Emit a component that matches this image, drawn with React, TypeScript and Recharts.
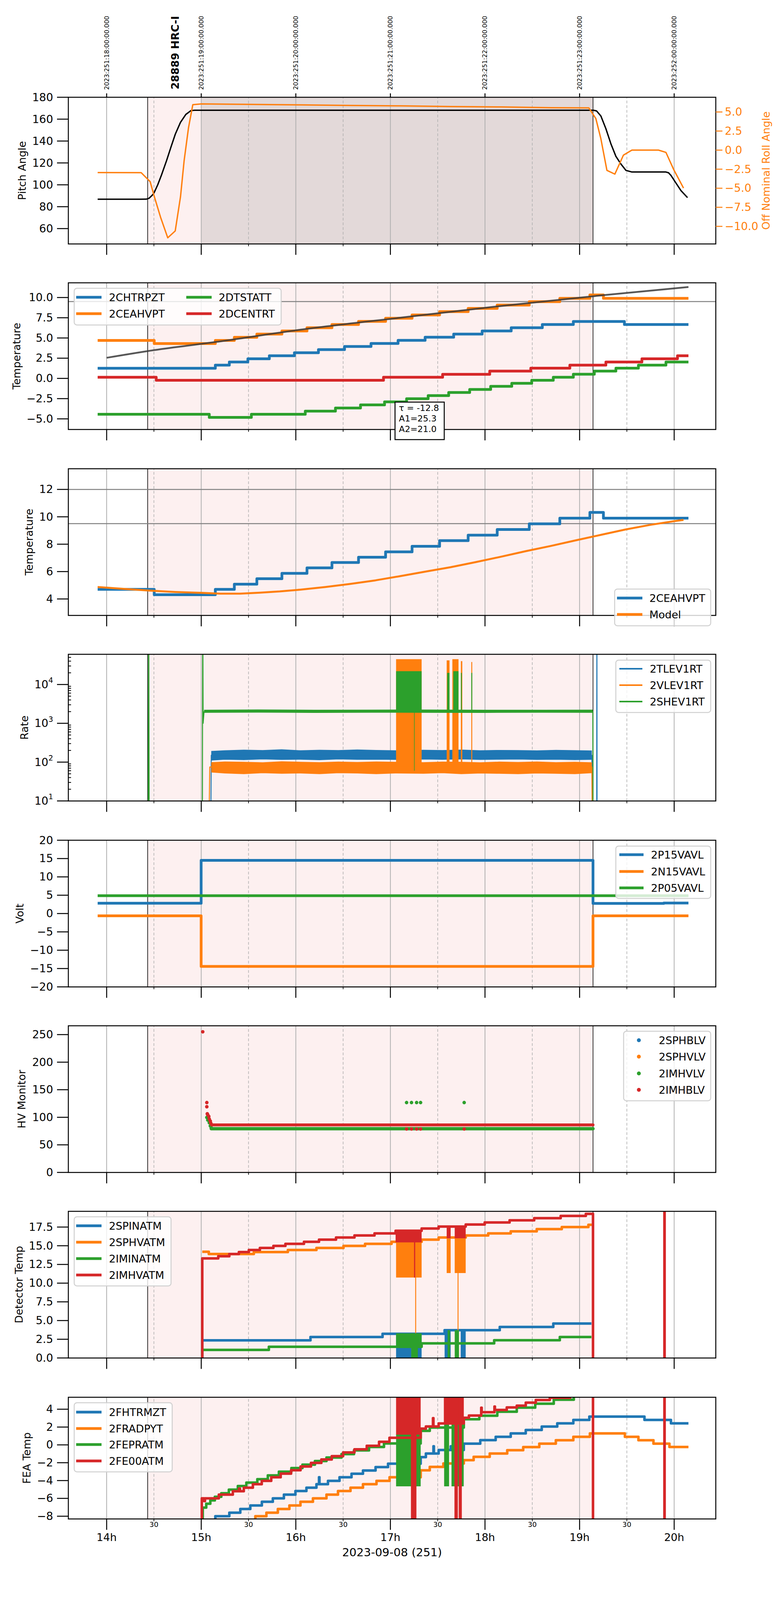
import React from 'react';
import {
  ComposedChart,
  Line,
  Area,
  Scatter,
  XAxis,
  YAxis,
  ReferenceLine,
  ReferenceArea,
} from 'recharts';

const FONT = "'DejaVu Sans', Verdana, sans-serif";
const C_BLUE = '#1f77b4';
const C_ORANGE = '#ff7f0e';
const C_GREEN = '#2ca02c';
const C_RED = '#d62728';
const C_PINK = '#fdf0f0';
const C_DARK = '#e3d9d9';
const C_GRID = '#b0b0b0';

// ---------------- time axis (hours, UTC, day 251) ----------------
const X_DOMAIN: [number, number] = [17.595, 24.44];
const DATA_END = 24.151;
const HOUR_TICKS = [18, 19, 20, 21, 22, 23, 24];
const HALF_HOUR_TICKS = [18.5, 19.5, 20.5, 21.5, 22.5, 23.5];
const X_TICKS = [18, 18.5, 19, 19.5, 20, 20.5, 21, 21.5, 22, 22.5, 23, 23.5, 24];
const LOCAL_HOUR_LABELS = ['14h', '15h', '16h', '17h', '18h', '19h', '20h'];
const HALF_HOUR_LABEL = '30';
const TOP_TIME_LABELS = [
  '2023:251:18:00:00.000',
  '2023:251:19:00:00.000',
  '2023:251:20:00:00.000',
  '2023:251:21:00:00.000',
  '2023:251:22:00:00.000',
  '2023:251:23:00:00.000',
  '2023:252:00:00:00.000',
];
const X_LABEL = '2023-09-08 (251)';
const OBS_START = 18.434;
const OBS_END = 23.142;
const SCIENCE_START = 19.0;
const OBSID_TEXT = '28889 HRC-I';
const OBSID_T = 18.723;

// ---------------- panel 1: pitch / roll ----------------
const PITCH_T = [17.905, 18.36, 18.42, 18.45, 18.48, 18.5, 18.54, 18.58, 18.633, 18.68, 18.726, 18.78, 18.837, 18.893, 18.93,
  23.15, 23.18, 23.225, 23.278, 23.331, 23.384, 23.437, 23.49, 23.553, 23.913, 23.94, 23.966, 24.019, 24.072, 24.141];
const PITCH_V = [86.8, 86.8, 86.9, 87.8, 90.3, 92.4, 100, 109, 122, 134.5, 146.3, 157, 164.3, 167.9, 168.1,
  168.1, 167.5, 162.9, 151.3, 137.5, 126, 119, 113.2, 111.7, 111.7, 111.0, 108.6, 101.6, 94.7, 88.3];
const ROLL_T = [17.905, 18.365, 18.46, 18.504, 18.57, 18.646, 18.725, 18.781, 18.819, 18.865, 18.911, 19.0, 19.52, 20.05,
  20.58, 21.11, 21.64, 22.17, 22.7, 23.098, 23.172, 23.225, 23.289, 23.373, 23.463, 23.553, 23.834, 23.913, 23.993, 24.099];
const ROLL_V = [-2.94, -2.96, -4.14, -6.1, -8.8, -11.5, -10.6, -6.1, -1.4, 2.9, 5.96, 6.06, 6.0, 5.93,
  5.85, 5.8, 5.71, 5.66, 5.56, 5.53, 4.14, 1.5, -2.66, -3.15, -0.67, 0.0, 0.0, -0.3, -2.5, -4.98];
const PITCH_TICKS = [60, 80, 100, 120, 140, 160, 180];
const ROLL_TICKS = [-10, -7.5, -5, -2.5, 0, 2.5, 5];

// ---------------- panel 2: temperatures ----------------
const CHTRPZT_T = [17.905, 19.149, 19.297, 19.493, 19.72, 19.985, 20.239, 20.515, 20.795, 21.081, 21.367, 21.669, 21.97, 22.277, 22.606, 22.934, 23.474];
const CHTRPZT_V = [1.26, 1.64, 2.03, 2.42, 2.8, 3.18, 3.56, 3.95, 4.32, 4.71, 5.1, 5.48, 5.87, 6.27, 6.66, 7.04, 6.66];
const CEAHVPT_T = [17.905, 18.503, 19.149, 19.35, 19.588, 19.853, 20.118, 20.382, 20.663, 20.949, 21.229, 21.52, 21.822, 22.129, 22.468, 22.791, 23.109, 23.252];
const CEAHVPT_V = [4.7, 4.31, 4.7, 5.08, 5.48, 5.87, 6.27, 6.66, 7.05, 7.44, 7.85, 8.26, 8.66, 9.07, 9.49, 9.9, 10.32, 9.9];
const DTSTATT_T = [17.905, 19.085, 19.53, 20.1, 20.419, 20.684, 20.938, 21.171, 21.399, 21.616, 21.838, 22.06, 22.283, 22.494, 22.722, 22.934, 23.156, 23.384, 23.622, 23.913];
const DTSTATT_V = [-4.43, -4.82, -4.43, -4.05, -3.66, -3.27, -2.9, -2.51, -2.13, -1.74, -1.37, -0.98, -0.61, -0.23, 0.14, 0.52, 0.9, 1.27, 1.64, 2.03];
const DCENTRT_T = [17.905, 18.524, 20.927, 21.552, 22.05, 22.484, 22.897, 23.278, 23.659, 24.035];
const DCENTRT_V = [0.14, -0.23, 0.14, 0.51, 0.9, 1.27, 1.64, 2.03, 2.42, 2.8];
const FIT_T = [18.0, 18.503, 19.149, 20.049, 21.107, 22.166, 23.225, 24.151];
const FIT_V = [2.55, 3.5, 4.5, 6.02, 7.51, 8.95, 10.26, 11.3];
const LIMIT_95 = 9.5;
const LIMIT_12 = 12;
const FIT_TEXT = ['\u03c4 = -12.8', 'A1=25.3', 'A2=21.0'];
const FIT_TEXT_T = 21.309;
const TEMP2_TICKS = [-5, -2.5, 0, 2.5, 5, 7.5, 10];

// ---------------- panel 3: model ----------------
const MODEL_T = [17.905, 18.196, 18.46, 18.725, 18.99, 19.2, 19.41, 19.62, 19.83, 20.049, 20.313, 20.578, 20.843, 21.107, 21.372, 21.637, 21.902, 22.166, 22.431, 22.696, 22.96, 23.225, 23.49, 23.754, 24.019, 24.099];
const MODEL_V = [4.87, 4.73, 4.61, 4.51, 4.45, 4.39, 4.39, 4.46, 4.55, 4.68, 4.87, 5.1, 5.36, 5.67, 6.0, 6.32, 6.69, 7.08, 7.49, 7.87, 8.28, 8.68, 9.08, 9.42, 9.7, 9.77];
const TEMP3_TICKS = [4, 6, 8, 10, 12];

// ---------------- panel 4: rates (log) ----------------
const BAND_T = [19.106, 19.25, 19.45, 19.65, 19.85, 20.05, 20.25, 20.45, 20.65, 20.85, 21.05, 21.35, 21.55, 21.75, 21.95, 22.15, 22.35, 22.55, 22.75, 22.95, 23.13];
const TLEV_LO = [112, 118, 115, 120, 116, 118, 114, 120, 117, 118, 116, 119, 117, 120, 116, 118, 119, 116, 118, 115, 117];
const TLEV_HI = [190, 198, 205, 200, 210, 198, 204, 200, 208, 202, 198, 204, 200, 206, 198, 202, 200, 197, 203, 199, 196];
const VLEV_LO = [55, 52, 50, 53, 51, 52, 50, 53, 52, 50, 52, 51, 53, 50, 52, 51, 50, 52, 51, 50, 53];
const VLEV_HI = [98, 102, 100, 97, 103, 100, 98, 101, 99, 102, 100, 98, 101, 100, 97, 101, 99, 102, 98, 100, 97];
const SHEV_BAND_T = [19.03, 19.6, 20.2, 20.8, 21.4, 22.0, 22.6, 23.14];
const SHEV_LO = [1900, 1920, 1890, 1910, 1900, 1890, 1910, 1900];
const SHEV_HI = [2200, 2230, 2190, 2210, 2220, 2200, 2190, 2210];
const TLEV_LINE_T = [19.1, 19.106, 23.13, 23.135, 23.181, 23.183, 23.185];
const TLEV_LINE_V = [1, 150, 150, 1, 1, 1e6, 1];
const VLEV_LINE_T = [19.08, 19.09, 23.13, 23.135];
const VLEV_LINE_V = [1, 75, 75, 1];
const SHEV_LINE_T = [18.44, 18.445, 18.45, 19.012, 19.016, 19.02, 19.03, 23.14, 23.142];
const SHEV_LINE_V = [1, 1e6, 1, 1, 1e6, 1000, 2000, 2000, 1];
const VLEV_BLOCKS = [[21.06, 21.33, 80, 45000], [21.595, 21.625, 80, 42000], [21.655, 21.72, 80, 45000], [21.745, 21.76, 80, 40000], [21.855, 21.865, 80, 38000]];
const SHEV_BLOCKS = [[21.06, 21.33, 2000, 22000], [21.6, 21.625, 2000, 20000], [21.665, 21.72, 2000, 22000], [21.745, 21.755, 2000, 20000], [21.855, 21.865, 2000, 20000], [21.25, 21.256, 60, 2000]];
const RATE_MAJOR = [10, 100, 1000, 10000];
const RATE_TICKS = [10, 20, 30, 40, 50, 60, 70, 80, 90, 100, 200, 300, 400, 500, 600, 700, 800, 900,
  1000, 2000, 3000, 4000, 5000, 6000, 7000, 8000, 9000, 10000, 20000, 30000, 40000, 50000];

// ---------------- panel 5: voltages ----------------
const P15_T = [17.905, 18.999, 23.142, 23.89];
const P15_V = [2.82, 14.52, 2.76, 2.86];
const N15_T = [17.905, 18.999, 23.142];
const N15_V = [-0.61, -14.43, -0.61];
const P05_T = [17.905];
const P05_V = [4.87];
const VOLT_TICKS = [-20, -15, -10, -5, 0, 5, 10, 15, 20];

// ---------------- panel 6: HV monitor ----------------
const IMHBLV_T = [19.016, 19.059, 19.059, 19.064, 19.069, 19.08, 19.085, 19.096, 19.101, 19.112, 21.171, 21.223, 21.277, 21.319, 21.78];
const IMHBLV_V = [255.1, 126.7, 119.1, 106.4, 104.5, 101.6, 96.9, 93.1, 89.3, 86.4, 78.8, 78.8, 78.8, 78.8, 78.8];
const IMHBLV_STEADY_T = [19.112, 23.142];
const IMHBLV_STEADY_V = [86.1, 86.1];
const IMHVLV_T = [19.059, 19.069, 19.085, 19.096, 19.106, 21.171, 21.223, 21.277, 21.319, 21.78];
const IMHVLV_V = [99.7, 95, 90.3, 84.5, 80.7, 126.7, 126.7, 126.7, 126.7, 126.7];
const IMHVLV_STEADY_T = [19.106, 23.142];
const IMHVLV_STEADY_V = [79.3, 79.3];
const HV_TICKS = [0, 50, 100, 150, 200, 250];

// ---------------- panel 7: detector temps ----------------
const SPINATM_T = [19.009, 19.011, 20.155, 20.917, 21.573, 22.156, 22.722];
const SPINATM_V = [-5, 2.35, 2.8, 3.23, 3.71, 4.14, 4.6];
const SPINATM_BLOCKS = [[21.06, 21.22, -1, 3.23], [21.29, 21.33, -1, 3.23], [21.573, 21.637, -1, 3.71], [21.743, 21.796, -1, 3.71]];
const SPHVATM_T = [19.011, 19.08, 19.556, 19.916, 20.218, 20.504, 20.732, 21.012, 21.33, 21.51, 21.796, 22.034, 22.272, 22.547, 22.812, 23.093];
const SPHVATM_V = [14.19, 13.89, 14.16, 14.43, 14.71, 14.98, 15.25, 15.53, 15.81, 16.1, 16.38, 16.65, 16.93, 17.22, 17.5, 17.8];
const SPHVATM_BLOCKS = [[21.06, 21.33, 10.75, 15.6], [21.262, 21.272, 3.3, 15.6], [21.595, 21.637, 11.35, 16.1], [21.68, 21.796, 11.35, 16.1], [21.71, 21.72, 3.5, 16.1]];
const IMINATM_T = [19.009, 19.011, 19.715, 21.33, 22.097, 22.791];
const IMINATM_V = [-5, 1.08, 1.5, 1.95, 2.37, 2.8];
const IMINATM_BLOCKS = [[21.06, 21.33, 1.4, 3.3], [21.22, 21.29, -1, 3.3], [21.605, 21.63, -1, 3.71], [21.68, 21.725, -1, 3.71]];
const IMHVATM_T = [19.009, 19.011, 19.18, 19.297, 19.398, 19.503, 19.62, 19.763, 19.89, 20.086, 20.245, 20.425, 20.62, 20.832, 21.055, 21.33, 21.51, 21.796, 21.997, 22.26, 22.52, 22.8, 23.066, 23.142, 23.897, 23.899];
const IMHVATM_V = [-5, 13.31, 13.6, 13.89, 14.16, 14.43, 14.71, 14.98, 15.25, 15.53, 15.81, 16.1, 16.38, 16.65, 17.0, 17.3, 17.57, 17.84, 18.11, 18.4, 18.68, 18.98, 19.26, -5, 30, -5];
const IMHVATM_BLOCKS = [[21.055, 21.33, 15.45, 17.02], [21.25, 21.262, 10.75, 17.0], [21.595, 21.637, 16.0, 17.57], [21.68, 21.796, 16.0, 17.57]];
const DET_TICKS = [0, 2.5, 5, 7.5, 10, 12.5, 15, 17.5];

// ---------------- panel 8: FEA temps ----------------
const FHTRMZT_T = [19.147, 19.149, 19.297, 19.413, 19.519, 19.641, 19.757, 19.874, 19.996, 20.112, 20.218, 20.245, 20.25, 20.34, 20.462, 20.589, 20.71, 20.843, 20.975, 21.32, 21.375, 21.455, 21.46, 21.51, 21.638, 21.643, 21.776, 21.95, 22.113, 22.272, 22.431, 22.6, 22.764, 22.934, 23.103, 23.686, 23.966];
const FHTRMZT_V = [-20, -8.0, -7.6, -7.19, -6.79, -6.38, -5.99, -5.58, -5.17, -4.8, -4.41, -3.63, -4.41, -4.03, -3.63, -3.24, -2.87, -2.49, -2.11, -1.37, -0.97, -0.16, -0.97, -0.57, -0.16, -0.57, 0.14, 0.53, 0.9, 1.29, 1.67, 2.06, 2.42, 2.8, 3.17, 2.8, 2.42];
const FRADPYT_T = [19.57, 19.572, 19.689, 19.81, 19.932, 20.049, 20.181, 20.324, 20.446, 20.578, 20.71, 20.853, 20.991, 21.32, 21.416, 21.56, 21.776, 21.88, 22.05, 22.235, 22.404, 22.574, 22.749, 22.934, 23.109, 23.479, 23.622, 23.781, 23.95];
const FRADPYT_V = [-20, -8.0, -7.6, -7.19, -6.79, -6.38, -5.99, -5.58, -5.17, -4.8, -4.41, -4.03, -3.63, -2.85, -2.47, -2.09, -1.71, -1.34, -0.97, -0.6, -0.24, 0.14, 0.52, 0.9, 1.29, 0.9, 0.52, 0.14, -0.23];
const FEPRATM_T = [19.014, 19.016, 19.053, 19.096, 19.144, 19.212, 19.292, 19.387, 19.477, 19.593, 19.704, 19.821, 19.953, 20.07, 20.202, 20.324, 20.483, 20.615, 20.774, 20.932, 21.32, 21.416, 21.776, 21.94, 22.13, 22.336, 22.531, 22.727, 22.939];
const FEPRATM_V = [-20, -7.04, -6.6, -6.22, -5.82, -5.43, -5.02, -4.62, -4.23, -3.85, -3.42, -3.01, -2.6, -2.22, -1.81, -1.42, -1.03, -0.62, -0.23, 0.16, 1.57, 1.94, 2.88, 3.27, 3.72, 4.18, 4.62, 5.07, 5.6];
const FEPRATM_BLOCKS = [[21.06, 21.32, -4.65, 1.2], [21.568, 21.62, -4.65, 2.4], [21.646, 21.775, -4.65, 2.4]];
const FE00ATM_T = [19.004, 19.006, 19.03, 19.04, 19.186, 19.334, 19.4, 19.41, 19.45, 19.546, 19.64, 19.74, 19.84, 19.95, 20.05, 20.16, 20.27, 20.38, 20.5, 20.62, 20.75, 20.88, 20.99, 21.32, 21.375, 21.45, 21.455, 21.51, 21.776, 21.83, 21.96, 21.965, 22.1, 22.105, 22.23, 22.336, 22.431, 22.537, 22.685, 22.9, 23.142, 23.897, 23.899];
const FE00ATM_V = [-20, -5.99, -6.3, -5.99, -5.58, -5.2, -4.9, -5.2, -4.8, -4.41, -4.03, -3.63, -3.22, -2.84, -2.43, -2.02, -1.64, -1.26, -0.85, -0.5, -0.1, 0.35, 0.8, 1.82, 2.07, 3.0, 2.07, 2.41, 3.04, 3.29, 4.17, 3.66, 4.3, 3.92, 4.2, 4.4, 4.74, 5.03, 5.29, 5.6, -20, 20, -20];
const FE00ATM_BLOCKS = [[21.06, 21.32, 1.15, 20], [21.217, 21.275, -20, 20], [21.565, 21.776, 2.5, 20], [21.677, 21.713, -20, 20], [21.722, 21.755, -20, 20]];
const FEA_TICKS = [-8, -6, -4, -2, 0, 2, 4];

// ---------------- page layout ----------------
const PAGE_H = 6200;
const VIEW_H = typeof window !== 'undefined' && window.innerHeight ? Math.min(PAGE_H, window.innerHeight) : PAGE_H;
const COMPACT = VIEW_H < PAGE_H;
const REF_PANELS: [number, number][] = [[249, 669], [987, 673], [1726, 674], [2465, 674], [3204, 673], [3943, 674], [4682, 670], [5421, 674]];
function panelLayout(H: number): [number, number][] {
  if (H >= PAGE_H) return REF_PANELS;
  const top0 = 249;
  const gap = 60;
  const bottomSpace = 104;
  const ph = (H - top0 - 7 * gap - bottomSpace) / 8;
  return REF_PANELS.map((_, i) => [top0 + i * (ph + gap), ph] as [number, number]);
}

// ---------------- helpers ----------------
const pairs = (t: number[], v: number[]) => t.map((x, i) => ({ t: x, v: v[i] }));
const steps = (t: number[], v: number[], end: number = DATA_END) => [...pairs(t, v), { t: end, v: v[v.length - 1] }];
const band = (t: number[], lo: number[], hi: number[]) => t.map((x, i) => ({ t: x, r: [lo[i], hi[i]] }));
const fmt = (v: number, d: number) => (v < 0 ? '\u2212' : '') + Math.abs(v).toFixed(d);

const PLOT_LEFT_W = 175;
const RIGHT_W = 167;

const yTick = (digits: number) => (props: any) => {
  const { x, y, payload } = props;
  return (
    <g>
      <line x1={x - 29} x2={x} y1={y} y2={y} stroke="#000" strokeWidth={2.5} />
      <text x={x - 39} y={y} textAnchor="end" dominantBaseline="central" fontSize={28} fontFamily={FONT} fill="#000">
        {fmt(payload.value, digits)}
      </text>
    </g>
  );
};

const rightTick = (props: any) => {
  const { x, y, payload } = props;
  return (
    <g>
      <line x1={x} x2={x + 17} y1={y} y2={y} stroke={C_ORANGE} strokeWidth={2.5} />
      <text x={x + 23} y={y} textAnchor="start" dominantBaseline="central" fontSize={28} fontFamily={FONT} fill={C_ORANGE}>
        {fmt(payload.value, 1)}
      </text>
    </g>
  );
};

const logTick = (props: any) => {
  const { x, y, payload } = props;
  const v = payload.value;
  const k = RATE_MAJOR.indexOf(v);
  if (k < 0) {
    return <line x1={x} x2={x + 7} y1={y} y2={y} stroke="#000" strokeWidth={2} />;
  }
  return (
    <g>
      <line x1={x - 29} x2={x} y1={y} y2={y} stroke="#000" strokeWidth={2.5} />
      <text x={x - 39} y={y} textAnchor="end" dominantBaseline="central" fontSize={28} fontFamily={FONT} fill="#000">
        10<tspan dy={-11} fontSize={19}>{String(k + 1)}</tspan>
      </text>
    </g>
  );
};

const xTick = (labels: boolean) => (props: any) => {
  const { x, y, payload } = props;
  const v = payload.value;
  const hi = HOUR_TICKS.indexOf(v);
  const isHour = hi >= 0;
  return (
    <g>
      <line x1={x} x2={x} y1={y} y2={y + (isHour ? 28 : 6)} stroke="#000" strokeWidth={isHour ? 2.5 : 1.8} />
      {labels ? (
        <text x={x} y={y + (isHour ? 47 : 14)} textAnchor="middle" dominantBaseline="central"
          fontSize={isHour ? 27 : 18} fontFamily={FONT} fill="#000">
          {isHour ? LOCAL_HOUR_LABELS[hi] : HALF_HOUR_LABEL}
        </text>
      ) : null}
    </g>
  );
};

const yLabel = (text: string, cx: number, color = '#000') => (props: any) => {
  const vb = props.viewBox || {};
  const cy = vb.y + vb.height / 2;
  return (
    <text x={cx} y={cy} transform={`rotate(-90 ${cx} ${cy})`} textAnchor="middle" dominantBaseline="central"
      fontSize={27} fontFamily={FONT} fill={color}>
      {text}
    </text>
  );
};

const xLabel = (props: any) => {
  const vb = props.viewBox || {};
  return (
    <text x={vb.x + vb.width / 2} y={vb.y + 86} textAnchor="middle" dominantBaseline="central" fontSize={29} fontFamily={FONT} fill="#000">
      {X_LABEL}
    </text>
  );
};

const topTimeLabel = (text: string) => (props: any) => {
  const vb = props.viewBox || {};
  const x = vb.x;
  const y = vb.y;
  return (
    <g>
      <line x1={x} x2={x} y1={y} y2={y - 10} stroke="#000" strokeWidth={2.5} />
      <text x={x} y={y - 19} transform={`rotate(-90 ${x} ${y - 19})`} textAnchor="start" dominantBaseline="central"
        fontSize={16} fontFamily={FONT} fill="#000">
        {text}
      </text>
    </g>
  );
};

const obsidLabel = (props: any) => {
  const vb = props.viewBox || {};
  const x = vb.x;
  const y = vb.y - 20;
  return (
    <text x={x} y={y} transform={`rotate(-90 ${x} ${y})`} textAnchor="start" dominantBaseline="central"
      fontSize={27} fontWeight="bold" fontFamily={FONT} fill="#000">
      {OBSID_TEXT}
    </text>
  );
};

// fit-parameter box, anchored on the panel's bottom edge
const FIT_BOX = COMPACT
  ? { w: 126, top: 70, h: 96, font: 22, first: 55, step: 27, pad: 10 }
  : { w: 144, top: 101, h: 116, font: 26, first: 77, step: 31.5, pad: 11 };
const fitBox = (props: any) => {
  const vb = props.viewBox || {};
  const cx = vb.x;
  const bottom = vb.y + vb.height;
  const b = FIT_BOX;
  return (
    <g>
      <rect x={cx - b.w / 2} y={bottom - b.top} width={b.w} height={b.h} fill="#fff" stroke="#000" strokeWidth={2.5} />
      {FIT_TEXT.map((s, i) => (
        <text key={i} x={cx - b.w / 2 + b.pad} y={bottom - b.first + i * b.step} textAnchor="start" dominantBaseline="central"
          fontSize={b.font} fontFamily={FONT} fill="#000">
          {s}
        </text>
      ))}
    </g>
  );
};

function backdrop(darkScience = false, topLabels = false) {
  const els: any[] = [];
  els.push(<ReferenceArea key="pink" zIndex={-300} x1={OBS_START} x2={OBS_END} fill={C_PINK} fillOpacity={1} stroke="none" ifOverflow="visible" />);
  if (darkScience) {
    els.push(<ReferenceArea key="dark" zIndex={-290} x1={SCIENCE_START} x2={OBS_END} fill={C_DARK} fillOpacity={1} stroke="none" ifOverflow="visible" />);
  }
  HOUR_TICKS.forEach((h, i) => {
    els.push(
      <ReferenceLine key={'h' + h} zIndex={-250} x={h} stroke={C_GRID} strokeWidth={2} ifOverflow="visible"
        label={topLabels ? topTimeLabel(TOP_TIME_LABELS[i]) : undefined} />
    );
  });
  HALF_HOUR_TICKS.forEach((h) => {
    els.push(<ReferenceLine key={'hh' + h} zIndex={-250} x={h} stroke={C_GRID} strokeWidth={1.6} strokeDasharray="7 5" ifOverflow="visible" />);
  });
  els.push(<ReferenceLine key="obs0" zIndex={-240} x={OBS_START} stroke="#000" strokeWidth={1.6} ifOverflow="visible" />);
  els.push(<ReferenceLine key="obs1" zIndex={-240} x={OBS_END} stroke="#000" strokeWidth={1.6} ifOverflow="visible" />);
  return els;
}

const frame = (yDomain: [number, number], yId: any = 0) => (
  <ReferenceArea key="frame" zIndex={900} yAxisId={yId} x1={X_DOMAIN[0]} x2={X_DOMAIN[1]} y1={yDomain[0]} y2={yDomain[1]}
    fill="none" stroke="#000" strokeWidth={2.5} ifOverflow="visible" />
);

const lineEl = (key: string, data: any[], color: string, width: number, z: number, type: any = 'stepAfter', extra: any = {}) => (
  <Line key={key} zIndex={z} data={data} dataKey="v" type={type} stroke={color} strokeWidth={width} dot={false} activeDot={false}
    isAnimationActive={false} strokeLinejoin="round" legendType="none" {...extra} />
);

const blockAreas = (blocks: number[][], color: string, key: string, z: number) =>
  blocks.map((b, i) => (
    <Area key={key + i} zIndex={z} data={[{ t: b[0], r: [b[2], b[3]] }, { t: b[1], r: [b[2], b[3]] }]} dataKey="r" type="linear"
      stroke="none" fill={color} fillOpacity={1} dot={false} activeDot={false} isAnimationActive={false} legendType="none" />
  ));

const bandArea = (key: string, data: any[], color: string, z: number) => (
  <Area key={key} zIndex={z} data={data} dataKey="r" type="linear" stroke={color} strokeWidth={1.5} fill={color} fillOpacity={1}
    dot={false} activeDot={false} isAnimationActive={false} legendType="none" />
);

const xAxisEl = (height: number, labels = false) => (
  <XAxis key="x" dataKey="t" type="number" domain={X_DOMAIN} allowDataOverflow ticks={X_TICKS} interval={0}
    height={height} axisLine={false} tickLine={false} tickSize={0} tickMargin={0} tick={xTick(labels)}
    label={labels ? xLabel : undefined} />
);

const yAxisEl = (domain: [number, number], ticks: number[], tick: any, label: any, extra: any = {}) => (
  <YAxis key="y" type="number" domain={domain} allowDataOverflow ticks={ticks} interval={0} width={PLOT_LEFT_W}
    axisLine={false} tickLine={false} tickSize={0} tickMargin={0} tick={tick} label={label} {...extra} />
);

function PanelChart({ top, height, mt = 40, mb = 40, right = false, children }: any) {
  const h = Math.round(height + mt + mb);
  return (
    <div style={{ position: 'absolute', left: 0, top: top - mt, width: 2000, height: h }}>
      <ComposedChart width={2000} height={h} margin={{ top: mt, right: right ? 0 : RIGHT_W, bottom: h - mt - height, left: 0 }}>
        {children}
      </ComposedChart>
    </div>
  );
}

type LegendEntry = { label: string; color: string };
function LegendBox({ x, y, w, h, entries, rows, hx, tx, len = 65, lw = 7, dots = false }: any) {
  const ox = x - 3;
  const oy = y - 3;
  return (
    <svg style={{ position: 'absolute', left: ox, top: oy }} width={w + 6} height={h + 6}>
      <rect x={3} y={3} width={w} height={h} rx={7} ry={7} fill="#fff" fillOpacity={0.8} stroke="#d0d0d0" strokeWidth={2.5} />
      {entries.map((e: LegendEntry, i: number) => {
        const cy = 3 + rows[i];
        const hxi = (Array.isArray(hx) ? hx[i] : hx) - ox;
        const txi = (Array.isArray(tx) ? tx[i] : tx) - ox;
        return (
          <g key={i}>
            {dots ? (
              <circle cx={hxi} cy={cy} r={5} fill={e.color} />
            ) : (
              <line x1={hxi} x2={hxi + len} y1={cy} y2={cy} stroke={e.color} strokeWidth={lw} />
            )}
            <text x={txi} y={cy} dominantBaseline="central" fontSize={27} fontFamily={FONT} fill="#000">
              {e.label}
            </text>
          </g>
        );
      })}
    </svg>
  );
}

export default function App() {
  const L = panelLayout(VIEW_H);
  const D1: [number, number] = [46, 180];
  const D1R: [number, number] = [-12.3, 6.93];
  const D2: [number, number] = [-6.31, 11.82];
  const D3: [number, number] = [2.8, 13.51];
  const D4: [number, number] = [10, 60000];
  const D5: [number, number] = [-20, 20];
  const D6: [number, number] = [0, 266];
  const D7: [number, number] = [0, 19.6];
  const D8: [number, number] = [-8.3, 5.34];
  const bottomSpace = VIEW_H - (L[7][0] + L[7][1]);
  const hvRed = COMPACT ? 7.5 : 10;
  const hvGreen = COMPACT ? 8.5 : 13;
  const hvDot = COMPACT ? 4.5 : 5.5;

  return (
    <div style={{ position: 'relative', margin: '-8px 0 0 -8px', width: 2000, height: VIEW_H, background: '#fff', fontFamily: FONT, overflow: 'hidden' }}>
      {/* Panel 1 */}
      <PanelChart top={L[0][0]} height={L[0][1]} mt={L[0][0]} right>
        {xAxisEl(40)}
        <YAxis yAxisId={0} type="number" domain={D1} allowDataOverflow ticks={PITCH_TICKS} interval={0} width={PLOT_LEFT_W}
          axisLine={false} tickLine={false} tickSize={0} tickMargin={0} tick={yTick(0)} label={yLabel('Pitch Angle', 56)} />
        <YAxis yAxisId="r" orientation="right" type="number" domain={D1R} allowDataOverflow ticks={ROLL_TICKS} interval={0} width={RIGHT_W}
          axisLine={false} tickLine={false} tickSize={0} tickMargin={0} tick={rightTick} label={yLabel('Off Nominal Roll Angle', 1961, C_ORANGE)} />
        {backdrop(true, true)}
        <ReferenceLine x={OBSID_T} stroke="none" ifOverflow="visible" label={obsidLabel} />
        {lineEl('pitch', pairs(PITCH_T, PITCH_V), '#000', 3.5, 110, 'linear')}
        {lineEl('roll', pairs(ROLL_T, ROLL_V), C_ORANGE, 3.5, 120, 'linear', { yAxisId: 'r' })}
        {frame(D1)}
      </PanelChart>

      {/* Panel 2 */}
      <PanelChart top={L[1][0]} height={L[1][1]}>
        {xAxisEl(40)}
        {yAxisEl(D2, TEMP2_TICKS, yTick(1), yLabel('Temperature', 42))}
        {backdrop()}
        <ReferenceLine y={LIMIT_95} zIndex={-230} stroke="#808080" strokeWidth={2.5} ifOverflow="visible" />
        {lineEl('chtrpzt', steps(CHTRPZT_T, CHTRPZT_V), C_BLUE, 7, 110)}
        {lineEl('ceahvpt', steps(CEAHVPT_T, CEAHVPT_V), C_ORANGE, 7, 120)}
        {lineEl('dtstatt', steps(DTSTATT_T, DTSTATT_V), C_GREEN, 7, 130)}
        {lineEl('dcentrt', steps(DCENTRT_T, DCENTRT_V), C_RED, 7, 140)}
        {lineEl('fit', pairs(FIT_T, FIT_V), '#3a3a3a', 4.5, 150, 'monotone', { strokeOpacity: 0.85 })}
        {frame(D2)}
        <ReferenceLine x={FIT_TEXT_T} zIndex={2000} stroke="none" ifOverflow="visible" label={fitBox} />
      </PanelChart>

      {/* Panel 3 */}
      <PanelChart top={L[2][0]} height={L[2][1]}>
        {xAxisEl(40)}
        {yAxisEl(D3, TEMP3_TICKS, yTick(0), yLabel('Temperature', 74))}
        {backdrop()}
        <ReferenceLine y={LIMIT_12} zIndex={-230} stroke="#808080" strokeWidth={2.5} ifOverflow="visible" />
        <ReferenceLine y={LIMIT_95} zIndex={-230} stroke="#808080" strokeWidth={2.5} ifOverflow="visible" />
        {lineEl('ceahvpt3', steps(CEAHVPT_T, CEAHVPT_V), C_BLUE, 7, 110)}
        {lineEl('model', pairs(MODEL_T, MODEL_V), C_ORANGE, 5, 120, 'linear')}
        {frame(D3)}
      </PanelChart>

      {/* Panel 4 */}
      <PanelChart top={L[3][0]} height={L[3][1]}>
        {xAxisEl(40)}
        {yAxisEl(D4, RATE_TICKS, logTick, yLabel('Rate', 62), { scale: 'log' })}
        {backdrop()}
        {bandArea('tlevband', band(BAND_T, TLEV_LO, TLEV_HI), C_BLUE, 110)}
        {lineEl('tlev', pairs(TLEV_LINE_T, TLEV_LINE_V), C_BLUE, 2.5, 111, 'linear')}
        {bandArea('vlevband', band(BAND_T, VLEV_LO, VLEV_HI), C_ORANGE, 120)}
        {lineEl('vlev', pairs(VLEV_LINE_T, VLEV_LINE_V), C_ORANGE, 2.5, 121, 'linear')}
        {blockAreas(VLEV_BLOCKS, C_ORANGE, 'vb', 122)}
        {bandArea('shevband', band(SHEV_BAND_T, SHEV_LO, SHEV_HI), C_GREEN, 130)}
        {lineEl('shev', pairs(SHEV_LINE_T, SHEV_LINE_V), C_GREEN, 2.5, 131, 'linear')}
        {blockAreas(SHEV_BLOCKS, C_GREEN, 'sb', 132)}
        {frame(D4)}
      </PanelChart>

      {/* Panel 5 */}
      <PanelChart top={L[4][0]} height={L[4][1]}>
        {xAxisEl(40)}
        {yAxisEl(D5, VOLT_TICKS, yTick(0), yLabel('Volt', 50))}
        {backdrop()}
        {lineEl('p15', steps(P15_T, P15_V), C_BLUE, 7, 110)}
        {lineEl('n15', steps(N15_T, N15_V), C_ORANGE, 7, 120)}
        {lineEl('p05', steps(P05_T, P05_V), C_GREEN, 7, 130)}
        {frame(D5)}
      </PanelChart>

      {/* Panel 6 */}
      <PanelChart top={L[5][0]} height={L[5][1]}>
        {xAxisEl(40)}
        {yAxisEl(D6, HV_TICKS, yTick(0), yLabel('HV Monitor', 55))}
        {backdrop()}
        {lineEl('imhvband', pairs(IMHVLV_STEADY_T, IMHVLV_STEADY_V), C_GREEN, hvGreen, 130, 'linear', { strokeLinecap: 'round' })}
        <Scatter zIndex={131} data={pairs(IMHVLV_T, IMHVLV_V)} dataKey="v" fill={C_GREEN} isAnimationActive={false} legendType="none"
          shape={(p: any) => <circle cx={p.cx} cy={p.cy} r={hvDot} fill={C_GREEN} />} />
        {lineEl('imhbband', pairs(IMHBLV_STEADY_T, IMHBLV_STEADY_V), C_RED, hvRed, 140, 'linear', { strokeLinecap: 'round' })}
        <Scatter zIndex={141} data={pairs(IMHBLV_T, IMHBLV_V)} dataKey="v" fill={C_RED} isAnimationActive={false} legendType="none"
          shape={(p: any) => <circle cx={p.cx} cy={p.cy} r={hvDot} fill={C_RED} />} />
        {frame(D6)}
      </PanelChart>

      {/* Panel 7 */}
      <PanelChart top={L[6][0]} height={L[6][1]}>
        {xAxisEl(40)}
        {yAxisEl(D7, DET_TICKS, yTick(1), yLabel('Detector Temp', 48))}
        {backdrop()}
        {lineEl('spin', steps(SPINATM_T, SPINATM_V, 23.125), C_BLUE, 6.5, 110)}
        {blockAreas(SPINATM_BLOCKS, C_BLUE, 'spb', 111)}
        {lineEl('sphv', steps(SPHVATM_T, SPHVATM_V, 23.13), C_ORANGE, 6.5, 120)}
        {blockAreas(SPHVATM_BLOCKS, C_ORANGE, 'shb', 121)}
        {lineEl('imin', steps(IMINATM_T, IMINATM_V, 23.125), C_GREEN, 6.5, 130)}
        {blockAreas(IMINATM_BLOCKS, C_GREEN, 'imb', 131)}
        {lineEl('imhv', steps(IMHVATM_T, IMHVATM_V), C_RED, 6.5, 140)}
        {blockAreas(IMHVATM_BLOCKS, C_RED, 'ihb', 141)}
        {frame(D7)}
      </PanelChart>

      {/* Panel 8 */}
      <PanelChart top={L[7][0]} height={L[7][1]} mb={bottomSpace}>
        {xAxisEl(Math.round(bottomSpace), true)}
        {yAxisEl(D8, FEA_TICKS, yTick(0), yLabel('FEA Temp', 68))}
        {backdrop()}
        {lineEl('fhtr', steps(FHTRMZT_T, FHTRMZT_V), C_BLUE, 6.5, 110)}
        {lineEl('frad', steps(FRADPYT_T, FRADPYT_V), C_ORANGE, 6.5, 120)}
        {lineEl('fepr', steps(FEPRATM_T, FEPRATM_V, OBS_END), C_GREEN, 6.5, 130)}
        {blockAreas(FEPRATM_BLOCKS, C_GREEN, 'fpb', 131)}
        {lineEl('fe00', steps(FE00ATM_T, FE00ATM_V), C_RED, 6.5, 140)}
        {blockAreas(FE00ATM_BLOCKS, C_RED, 'feb', 141)}
        {frame(D8)}
      </PanelChart>

      {/* Legends */}
      <LegendBox x={190} y={L[1][0] + 14} w={530} h={94} lw={7} rows={[23, 65, 23, 65]} hx={[195, 195, 477, 477]} tx={[279, 279, 560, 560]}
        entries={[
          { label: '2CHTRPZT', color: C_BLUE },
          { label: '2CEAHVPT', color: C_ORANGE },
          { label: '2DTSTATT', color: C_GREEN },
          { label: '2DCENTRT', color: C_RED },
        ]} />
      <LegendBox x={1574} y={L[2][0] + L[2][1] - 107} w={246} h={94} lw={7} rows={[23, 65]} hx={1580} tx={1663}
        entries={[
          { label: '2CEAHVPT', color: C_BLUE },
          { label: 'Model', color: C_ORANGE },
        ]} />
      <LegendBox x={1577} y={L[3][0] + 15} w={243} h={134} lw={4} len={59} rows={[22, 64, 106]} hx={1586} tx={1664}
        entries={[
          { label: '2TLEV1RT', color: C_BLUE },
          { label: '2VLEV1RT', color: C_ORANGE },
          { label: '2SHEV1RT', color: C_GREEN },
        ]} />
      <LegendBox x={1577} y={L[4][0] + 15} w={243} h={134} lw={7} len={62} rows={[22, 65, 107]} hx={1586} tx={1667}
        entries={[
          { label: '2P15VAVL', color: C_BLUE },
          { label: '2N15VAVL', color: C_ORANGE },
          { label: '2P05VAVL', color: C_GREEN },
        ]} />
      <LegendBox x={1597} y={L[5][0] + 14} w={223} h={178} dots rows={[23, 65, 108, 150]} hx={1636} tx={1687}
        entries={[
          { label: '2SPHBLV', color: C_BLUE },
          { label: '2SPHVLV', color: C_ORANGE },
          { label: '2IMHVLV', color: C_GREEN },
          { label: '2IMHBLV', color: C_RED },
        ]} />
      <LegendBox x={190} y={L[6][0] + 14} w={248} h={177} lw={7} rows={[23, 65, 107, 149]} hx={195} tx={279}
        entries={[
          { label: '2SPINATM', color: C_BLUE },
          { label: '2SPHVATM', color: C_ORANGE },
          { label: '2IMINATM', color: C_GREEN },
          { label: '2IMHVATM', color: C_RED },
        ]} />
      <LegendBox x={190} y={L[7][0] + 14} w={251} h={177} lw={7} rows={[24, 66, 107, 149]} hx={195} tx={279}
        entries={[
          { label: '2FHTRMZT', color: C_BLUE },
          { label: '2FRADPYT', color: C_ORANGE },
          { label: '2FEPRATM', color: C_GREEN },
          { label: '2FE00ATM', color: C_RED },
        ]} />
    </div>
  );
}
